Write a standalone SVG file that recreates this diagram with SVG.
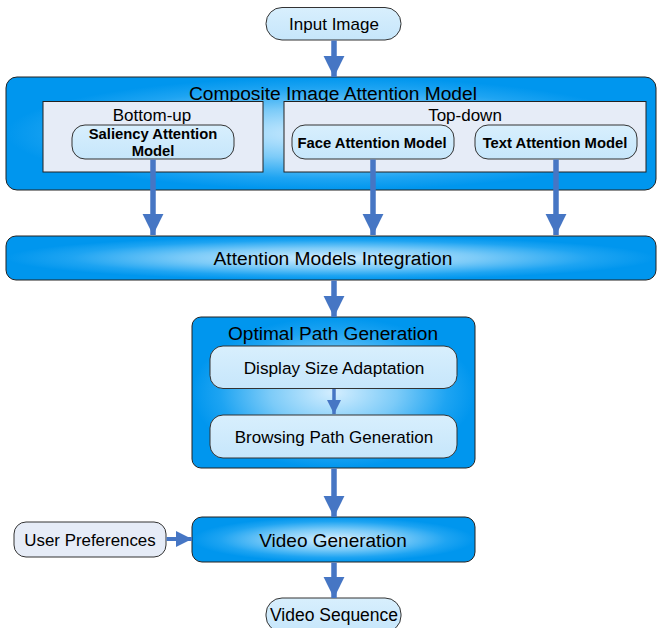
<svg xmlns="http://www.w3.org/2000/svg" width="657" height="628" viewBox="0 0 657 628">
<defs>
<radialGradient id="blue" cx="50%" cy="50%" r="50%">
<stop offset="0" stop-color="#d4eeff"/>
<stop offset="0.45" stop-color="#7ccbf8"/>
<stop offset="0.8" stop-color="#1ea4f2"/>
<stop offset="1" stop-color="#0096ee"/>
</radialGradient>
<linearGradient id="node" x1="0" y1="0" x2="0" y2="1">
<stop offset="0" stop-color="#d8effd"/>
<stop offset="1" stop-color="#c6e6fb"/>
</linearGradient>
<marker id="ah" viewBox="0 0 10 10" refX="10" refY="5" markerWidth="3.8" markerHeight="4.2" markerUnits="strokeWidth" orient="auto">
<path d="M0,0 L10,5 L0,10 z" fill="#4676c4"/>
</marker>
<marker id="ahs" viewBox="0 0 10 10" refX="10" refY="5" markerWidth="4" markerHeight="4" markerUnits="strokeWidth" orient="auto">
<path d="M0,0 L10,5 L0,10 z" fill="#4676c4"/>
</marker>
</defs>
<style>
text{font-family:"Liberation Sans",Arial,sans-serif;fill:#000;text-anchor:middle}
.big{fill:url(#blue);stroke:#222;stroke-width:1}
.panel{fill:#e6ecf7;stroke:#222;stroke-width:1}
.nd{fill:url(#node);stroke:#333;stroke-width:1}
.nd2{fill:#e6ecf7;stroke:#333;stroke-width:1}
.b{font-weight:bold;font-size:14.8px}
.conn line{stroke:#4676c4;stroke-width:5.5}
</style>

<g id="input-image">
<rect class="nd" x="266" y="7.5" width="135" height="32.5" rx="16"/>
<text x="334" y="29.5" font-size="17">Input Image</text>
</g>

<g id="composite">
<rect class="big" x="6" y="77" width="650" height="113" rx="11"/>
<text x="333" y="100" font-size="19.2">Composite Image Attention Model</text>
</g>

<g id="bottom-up">
<rect class="panel" x="43" y="101.5" width="220" height="70.5"/>
<text x="152" y="121" font-size="17">Bottom-up</text>
</g>

<g id="top-down">
<rect class="panel" x="284" y="101.5" width="362" height="70.5"/>
<text x="465" y="121" font-size="17">Top-down</text>
</g>

<g id="saliency">
<rect class="nd" x="72" y="125" width="162" height="34" rx="13"/>
<text class="b" x="153" y="139">Saliency Attention</text>
<text class="b" x="153" y="156">Model</text>
</g>

<g id="face">
<rect class="nd" x="292" y="125" width="162" height="34" rx="13"/>
<text class="b" x="372" y="147.5">Face Attention Model</text>
</g>

<g id="text-model">
<rect class="nd" x="475" y="125" width="162" height="34" rx="13"/>
<text class="b" x="555" y="147.5">Text Attention Model</text>
</g>

<g id="integration">
<rect class="big" x="6" y="236" width="650" height="44" rx="10"/>
<text x="333" y="264.5" font-size="19.2">Attention Models Integration</text>
</g>

<g id="optimal-path">
<rect class="big" x="192" y="317" width="283" height="151" rx="9"/>
<text x="333" y="339.5" font-size="19.1">Optimal Path Generation</text>
</g>

<g id="display-size">
<rect class="nd" x="210" y="346" width="247" height="42.5" rx="13"/>
<text x="334" y="373.5" font-size="17.2">Display Size Adaptation</text>
</g>

<g id="browsing-path">
<rect class="nd" x="210" y="415" width="247" height="43" rx="13"/>
<text x="334" y="442.5" font-size="17">Browsing Path Generation</text>
</g>

<g id="video-generation">
<rect class="big" x="192" y="517" width="283" height="45" rx="10"/>
<text x="333" y="546.5" font-size="19">Video Generation</text>
</g>

<g id="user-preferences">
<rect class="nd2" x="14" y="522" width="152" height="35" rx="12"/>
<text x="90" y="545.5" font-size="16.9">User Preferences</text>
</g>

<g id="video-sequence">
<rect class="nd" x="266" y="598" width="135" height="34" rx="16"/>
<text x="334" y="620.5" font-size="17.5">Video Sequence</text>
</g>

<g id="connectors" class="conn">
<line x1="334" y1="40.5" x2="334" y2="77" marker-end="url(#ah)"/>
<line x1="153" y1="159.5" x2="153" y2="235" marker-end="url(#ah)"/>
<line x1="373" y1="159.5" x2="373" y2="235" marker-end="url(#ah)"/>
<line x1="556" y1="159.5" x2="556" y2="235" marker-end="url(#ah)"/>
<line x1="334" y1="280.5" x2="334" y2="317" marker-end="url(#ah)"/>
<line x1="334" y1="389" x2="334" y2="414" style="stroke-width:3.5" marker-end="url(#ahs)"/>
<line x1="334" y1="468.5" x2="334" y2="517" marker-end="url(#ah)"/>
<line x1="166.5" y1="539" x2="192" y2="539" style="stroke-width:4" marker-end="url(#ahs)"/>
<line x1="334" y1="562.5" x2="334" y2="598" marker-end="url(#ah)"/>
</g>
</svg>
